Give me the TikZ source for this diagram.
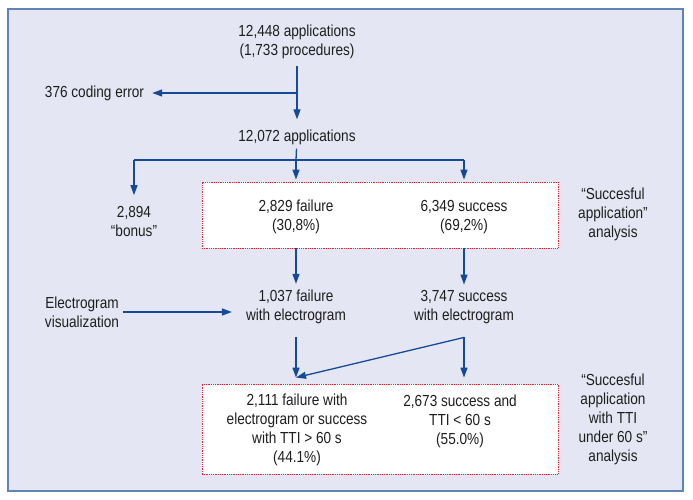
\documentclass[tikz,border=0pt]{standalone}
\usepackage{fontspec}
\setmainfont{Liberation Sans}[FakeStretch=0.85]
\usepackage{xcolor}
\usetikzlibrary{arrows.meta}
\definecolor{framefill}{RGB}{228,231,243}
\definecolor{frameline}{RGB}{94,132,186}
\definecolor{flowblue}{RGB}{22,74,150}
\definecolor{boxred}{RGB}{226,40,56}
\definecolor{txt}{RGB}{30,30,30}

\begin{document}
\begin{tikzpicture}[x=1pt,y=-1pt]
\tikzstyle{every node}=[align=center,font=\fontsize{16}{19}\selectfont,text=txt,inner sep=4pt]
\tikzstyle{flowline}=[draw=flowblue,line width=1.3pt]
\tikzstyle{flow}=[flowline,-{Triangle[length=10pt,width=7pt]}]
\tikzstyle{analysisbox}=[draw=boxred,densely dotted,line width=0.8pt,fill=white,minimum width=356pt,inner sep=0pt]
\useasboundingbox (0,0) rectangle (693,500);
\draw[draw=frameline,fill=framefill,line width=1.5pt] (8,9) rectangle (683,491);
\node[analysisbox,minimum height=66pt] (g1) at (380,215) {};
\node[analysisbox,minimum height=90pt] (g2) at (380,429) {};
\node (a) at (297,42) {12,448 applications\\(1,733 procedures)};
\node (err) at (94.5,93) {376 coding error};
\node (b) at (297,137) {12,072 applications};
\node (bonus) at (134,221.5) {2,894\\“bonus”};
\node (fail) at (296,217) {2,829 failure\\(30,8\%)};
\node (succ) at (464,217) {6,349 success\\(69,2\%)};
\node (an1) at (613,214) {“Succesful\\application”\\analysis};
\node (ev) at (82,312.5) {Electrogram\\visualization};
\node (failE) at (296,307) {1,037 failure\\with electrogram};
\node (succE) at (464,307.5) {3,747 success\\with electrogram};
\node (res1) at (297,430) {2,111 failure with\\electrogram or success\\with TTI > 60 s\\(44.1\%)};
\node (res2) at (460,421) {2,673 success and\\TTI < 60 s\\(55.0\%)};
\node (an2) at (613,419.5) {“Succesful\\application\\with TTI\\under 60 s”\\analysis};
\coordinate (split) at (296,160);
\coordinate (fs) at ([yshift=-9pt]failE.south);
\coordinate (ss) at ([yshift=-9pt]succE.south);
\coordinate (in2) at ([yshift=6pt]g2.north -| failE);
\draw[flow,shorten <=3pt,shorten >=6pt] (a) -- (b);
\draw[flow,shorten >=4pt] (a |- err) -- (err);
\draw[flowline] (b) -- (split);
\draw[flowline] (split -| bonus) -- (split -| succ);
\draw[flow,shorten >=7pt] (split -| bonus) -- (bonus);
\draw[flow,shorten >=2pt] (split) -- (fail |- g1.north);
\draw[flow,shorten >=2pt] (split -| succ) -- (succ |- g1.north);
\draw[flow,shorten >=2pt] (fail |- g1.south) -- (failE);
\draw[flow,shorten >=2pt] (succ |- g1.south) -- (succE);
\draw[flow,shorten >=10pt] (ev.east |- 0,312) -- (failE.west |- 0,312);
\draw[flow] (fs) -- (in2);
\draw[flow] (ss) -- (in2);
\draw[flow,shorten >=6pt] (ss) -- (succE |- g2.north);
\end{tikzpicture}
\end{document}
